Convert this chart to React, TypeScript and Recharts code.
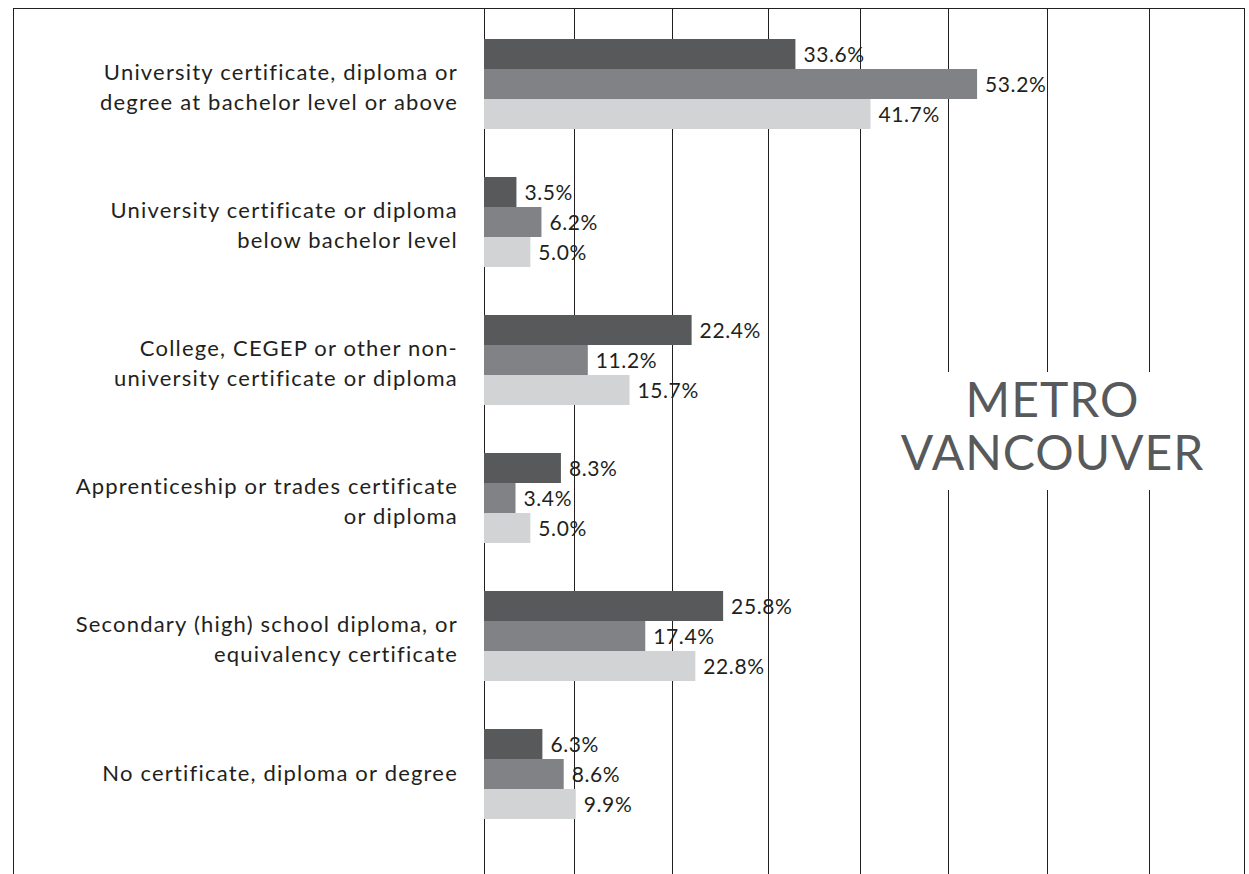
import { BarChart, Bar, XAxis, YAxis, CartesianGrid, LabelList } from "recharts"

const categories = [
	"University certificate, diploma or\ndegree at bachelor level or above",
	"University certificate or diploma\nbelow bachelor level",
	"College, CEGEP or other non-\nuniversity certificate or diploma",
	"Apprenticeship or trades certificate\nor diploma",
	"Secondary (high) school diploma, or\nequivalency certificate",
	"No certificate, diploma or degree",
]

const groupOne = [33.6, 3.5, 22.4, 8.3, 25.8, 6.3]
const groupTwo = [53.2, 6.2, 11.2, 3.4, 17.4, 8.6]
const groupThree = [41.7, 5.0, 15.7, 5.0, 22.8, 9.9]

// unlabeled vertical rules, in percent
const gridValues = [0, 9.8, 20.3, 30.7, 40.6, 50.1, 60.8, 71.8]

const FONT = "Lato, 'Open Sans', sans-serif"
const INK = "#231f20"

const data = categories.map((name, i) => ({
	name,
	a: groupOne[i],
	b: groupTwo[i],
	c: groupThree[i],
}))

const CategoryTick = (props: any) => {
	const { x, y, payload } = props
	const lines: string[] = String(payload.value).split("\n")
	const first = lines.length === 1 ? 7 : -4
	return (
		<text
			x={x}
			y={y}
			textAnchor="end"
			fontFamily={FONT}
			fontSize={22}
			letterSpacing={1.2}
			fill={INK}
		>
			{lines.map((line, i) => (
				<tspan key={i} x={x} y={y + first + i * 30}>
					{line}
				</tspan>
			))}
		</text>
	)
}

const ValueLabel = (props: any) => {
	const { x, y, width, height, value } = props
	return (
		<text
			x={Number(x) + Number(width) + 8}
			y={Number(y) + Number(height) / 2 + 8}
			fontFamily={FONT}
			fontSize={21}
			letterSpacing={0.6}
			fill={INK}
		>
			{Number(value).toFixed(1)}%
		</text>
	)
}

const App = () => {
	return (
		<div
			style={{
				position: "absolute",
				left: 0,
				top: 0,
				width: 1249,
				height: 874,
				background: "#fff",
				overflow: "hidden",
			}}
		>
			<div
				style={{
					position: "absolute",
					left: 13,
					top: 8,
					width: 1232,
					height: 880,
					boxSizing: "border-box",
					borderTop: `1px solid ${INK}`,
					borderLeft: `1px solid ${INK}`,
					borderRight: `1px solid ${INK}`,
				}}
			/>
			<BarChart
				width={1249}
				height={874}
				data={data}
				layout="vertical"
				margin={{ top: 8, right: 5, left: 0, bottom: 0 }}
				barCategoryGap={24}
				barGap={0}
				style={{ position: "absolute", left: 0, top: 0 }}
			>
				<CartesianGrid
					horizontal={false}
					stroke={INK}
					strokeOpacity={1}
					shapeRendering="crispEdges"
				/>
				<XAxis type="number" domain={[0, 82]} ticks={gridValues} hide />
				<YAxis
					type="category"
					dataKey="name"
					width={484}
					padding={{ top: 7, bottom: 31 }}
					axisLine={false}
					tickLine={false}
					tickSize={0}
					tickMargin={26}
					interval={0}
					tick={<CategoryTick />}
				/>
				<Bar dataKey="a" fill="#58595b" isAnimationActive={false}>
					<LabelList dataKey="a" content={<ValueLabel />} />
				</Bar>
				<Bar dataKey="b" fill="#808285" isAnimationActive={false}>
					<LabelList dataKey="b" content={<ValueLabel />} />
				</Bar>
				<Bar dataKey="c" fill="#d1d3d4" isAnimationActive={false}>
					<LabelList dataKey="c" content={<ValueLabel />} />
				</Bar>
			</BarChart>
			<div
				style={{
					position: "absolute",
					left: 895,
					top: 372,
					width: 315,
					height: 118,
					background: "#fff",
					color: "#58595b",
					fontFamily: FONT,
					fontSize: 48,
					letterSpacing: 1,
					lineHeight: "53px",
					textAlign: "center",
					boxSizing: "border-box",
				}}
			>
				METRO
				<br />
				VANCOUVER
			</div>
		</div>
	)
}

export default App
